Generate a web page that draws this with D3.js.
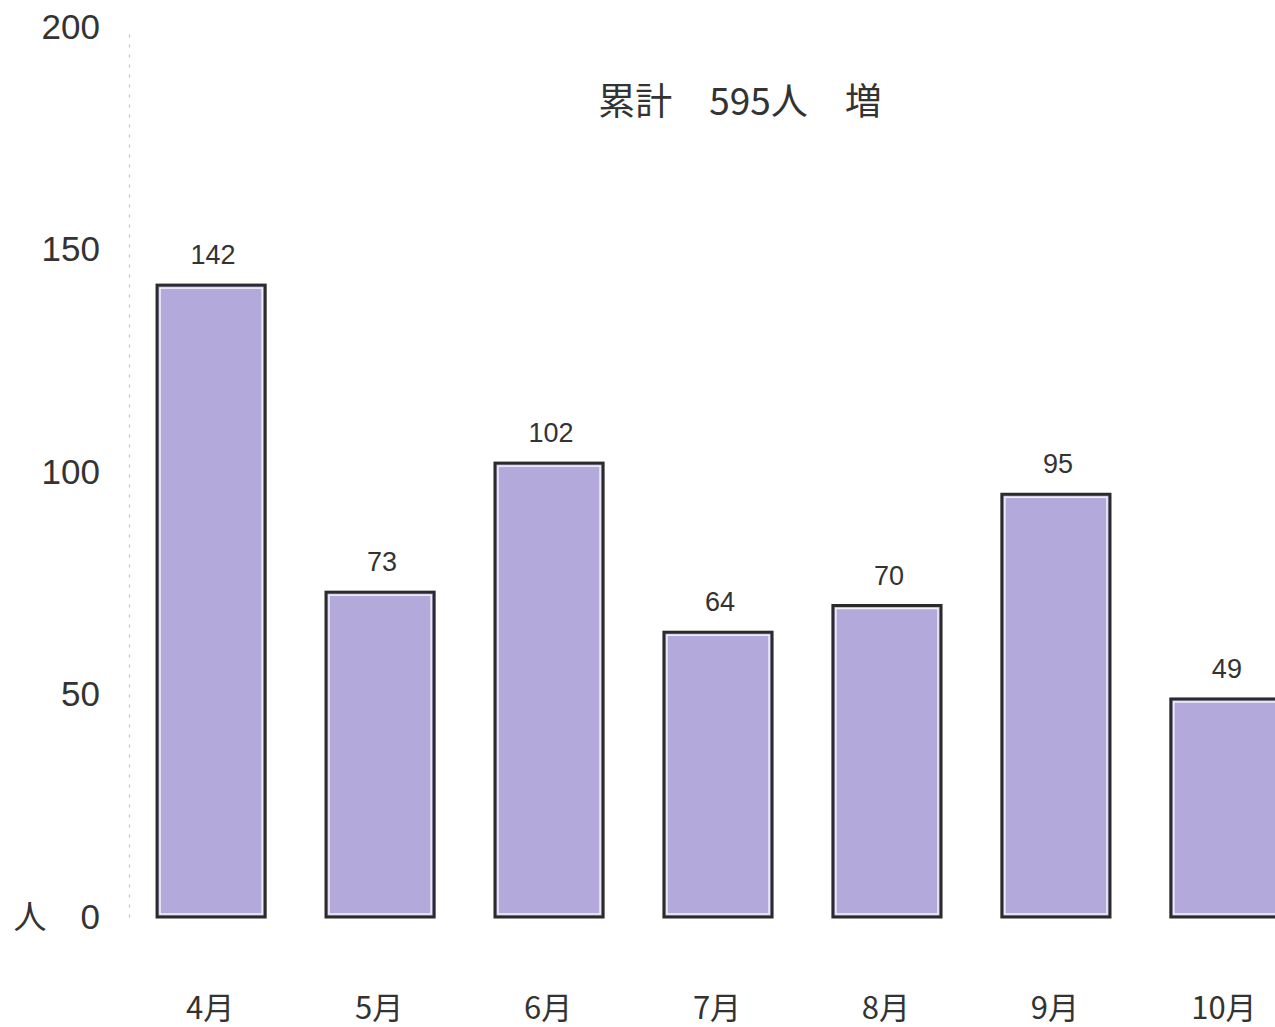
<!DOCTYPE html>
<html>
<head>
<meta charset="utf-8">
<script src="https://cdn.jsdelivr.net/npm/d3@7"></script>
<style>
  html, body { margin: 0; padding: 0; background: #fff; }
  svg { display: block; }
  text { fill: #333; }
</style>
</head>
<body>
<script>
const months = ["4月", "5月", "6月", "7月", "8月", "9月", "10月"];
const values = [142, 73, 102, 64, 70, 95, 49];
const yTicks = [0, 50, 100, 150, 200];
const titleText = "累計　595人　増";
const unitLabel = "人";

const W = 1275, H = 1027;
const svg = d3.select("body").append("svg").attr("width", W).attr("height", H);

const y = d3.scaleLinear().domain([0, 200]).range([917, 27]);
const x = d3.scaleBand().domain(months).range([129, 1307]).paddingInner(0.36).paddingOuter(0.166);

const numFont = "'Liberation Sans', Arial, 'Noto Sans CJK JP', sans-serif";
const cjkFont = "'Noto Sans CJK JP', 'Liberation Sans', sans-serif";

// y axis
const yAxis = svg.append("g").attr("transform", "translate(129,0)")
  .call(d3.axisLeft(y).tickValues(yTicks).tickSize(0).tickPadding(29).tickFormat(d3.format("d")));
yAxis.select(".domain").attr("stroke", "#c4c4c4").attr("stroke-width", 1.2).attr("stroke-dasharray", "3,7");
yAxis.selectAll("text").attr("font-family", numFont).attr("font-size", 35).attr("fill", "#333");

// unit label
svg.append("text").attr("x", 30).attr("y", y(0)).attr("dy", "0.36em")
  .attr("text-anchor", "middle").attr("font-family", cjkFont).attr("font-size", 33)
  .attr("fill", "#333").text(unitLabel);

// bars
const bars = svg.append("g");
bars.selectAll("rect.bar").data(values).join("rect").attr("class", "bar")
  .attr("x", (d, i) => x(months[i]))
  .attr("y", d => y(d))
  .attr("width", x.bandwidth())
  .attr("height", d => y(0) - y(d))
  .attr("fill", "#b3aadb").attr("stroke", "#2b2b2b").attr("stroke-width", 3);
bars.selectAll("rect.inner").data(values).join("rect").attr("class", "inner")
  .attr("x", (d, i) => x(months[i]) + 3)
  .attr("y", d => y(d) + 3)
  .attr("width", x.bandwidth() - 6)
  .attr("height", d => y(0) - y(d) - 6)
  .attr("fill", "none").attr("stroke", "#f4f2fb").attr("stroke-width", 1.5);

// value labels
svg.append("g").selectAll("text").data(values).join("text")
  .attr("x", (d, i) => x(months[i]) + x.bandwidth() / 2 + 2)
  .attr("y", d => y(d) - 21)
  .attr("text-anchor", "middle").attr("font-family", numFont).attr("font-size", 27)
  .attr("fill", "#333").text(d => d);

// x axis
const xAxis = svg.append("g").attr("transform", `translate(0,${y(0)})`)
  .call(d3.axisBottom(x).tickSize(0).tickPadding(80));
xAxis.select(".domain").remove();
xAxis.selectAll("text").attr("font-family", cjkFont).attr("font-size", 31).attr("fill", "#333")
  .attr("dx", "-1");

// title
svg.append("text").attr("x", 740).attr("y", 115)
  .attr("text-anchor", "middle").attr("font-family", cjkFont).attr("font-size", 37)
  .attr("fill", "#333").style("white-space", "pre").text(titleText);
</script>
</body>
</html>
